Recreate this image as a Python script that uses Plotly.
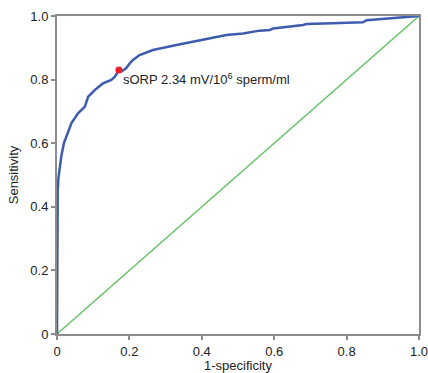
import plotly.graph_objects as go

# ROC curve values
fpr = [0, 0, 0.002, 0.004, 0.007, 0.012, 0.019, 0.026, 0.04, 0.058, 0.077, 0.086,
       0.104, 0.127, 0.15, 0.16, 0.171, 0.178, 0.19, 0.201, 0.21, 0.228, 0.265,
       0.33, 0.376, 0.422, 0.468, 0.514, 0.56, 0.588, 0.597, 0.68, 0.689, 0.76,
       0.845, 0.855, 0.947, 0.993, 1.0]
tpr = [0, 0.40, 0.45, 0.49, 0.525, 0.56, 0.60, 0.62, 0.663, 0.694, 0.715, 0.746,
       0.767, 0.788, 0.799, 0.809, 0.830, 0.826, 0.835, 0.851, 0.862, 0.877, 0.893,
       0.909, 0.919, 0.930, 0.940, 0.945, 0.954, 0.956, 0.961, 0.972, 0.975, 0.977,
       0.980, 0.987, 0.995, 0.998, 1.0]
ref_x = [0, 1]
ref_y = [0, 1]
cut_x = [0.171]
cut_y = [0.830]
cut_label = "sORP 2.34 mV/10<sup>6</sup> sperm/ml"
tick_vals = [0, 0.2, 0.4, 0.6, 0.8, 1.0]
tick_text = ["0", "0.2", "0.4", "0.6", "0.8", "1.0"]

FONT = "Liberation Sans, Arial"

fig = go.Figure()
fig.add_trace(go.Scatter(x=ref_x, y=ref_y, mode="lines",
                         line=dict(color="#6cc46c", width=1.5), cliponaxis=False))
fig.add_trace(go.Scatter(x=fpr, y=tpr, mode="lines",
                         line=dict(color="#3d5cb0", width=2.5), cliponaxis=False))
fig.add_trace(go.Scatter(x=cut_x, y=cut_y, mode="markers",
                         marker=dict(color="#ee1c24", size=7), cliponaxis=False))
fig.add_annotation(x=cut_x[0], y=cut_y[0], text=cut_label, showarrow=False,
                   xanchor="left", yanchor="middle", xshift=2, yshift=-9,
                   font=dict(family=FONT, size=13, color="#222"))

axis_common = dict(range=[0, 1], showline=True, mirror=True, linecolor="#8c8c8c",
                   linewidth=2, ticks="outside", ticklen=4, tickcolor="#8c8c8c",
                   tickwidth=1.5, showgrid=False, zeroline=False, automargin=False,
                   ticklabeloverflow="allow",
                   tickvals=tick_vals, ticktext=tick_text,
                   tickfont=dict(family=FONT, size=13, color="#222"))
fig.update_xaxes(**axis_common, title=dict(text="1-specificity", standoff=2,
                 font=dict(family=FONT, size=13, color="#222")))
fig.update_yaxes(**axis_common, title=dict(text="Sensitivity", standoff=9,
                 font=dict(family=FONT, size=13, color="#222")))
fig.update_layout(width=428, height=373, margin=dict(l=57, r=9, t=16, b=39),
                  plot_bgcolor="white", paper_bgcolor="white", showlegend=False)
fig.write_html("out.html", config={"displayModeBar": False},
               post_script="document.body.style.margin='0';document.body.style.overflow='hidden';")
